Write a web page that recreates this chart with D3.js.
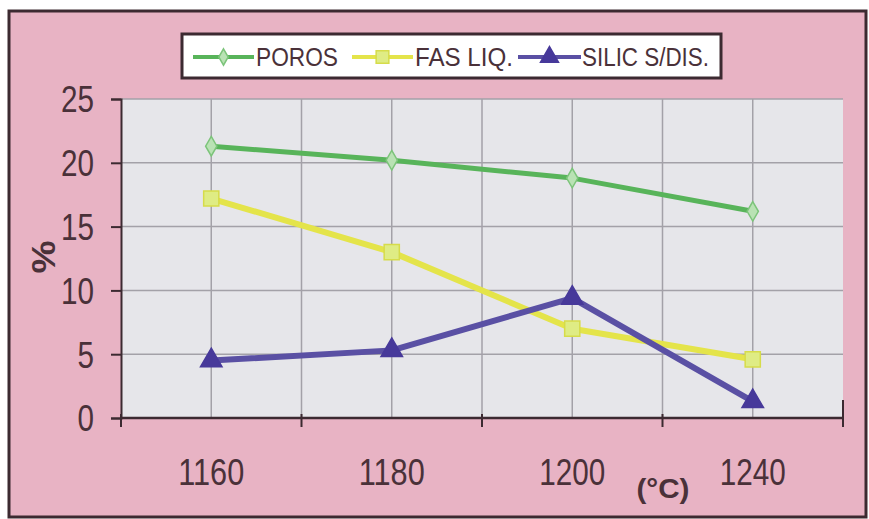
<!DOCTYPE html>
<html>
<head>
<meta charset="utf-8">
<script src="https://cdn.jsdelivr.net/npm/d3@7/dist/d3.min.js"></script>
<style>
  html, body { margin: 0; padding: 0; background: #ffffff; }
  svg { display: block; }
  text { font-family: "Liberation Sans", Arial, sans-serif; fill: #4a3139; }
</style>
</head>
<body>
<svg id="chart" width="869" height="519"></svg>
<script>
// Temperature categories (°C) and the three measured series (%)
const categories = ["1160", "1180", "1200", "1240"];
const poros  = [21.3, 20.2, 18.8, 16.2];
const fasLiq = [17.2, 13.0, 7.0, 4.6];
const silic  = [4.5, 5.3, 9.4, 1.3];
const yTicks = [0, 5, 10, 15, 20, 25];
const seriesNames = ["POROS", "FAS LIQ.", "SILIC S/DIS."];

const series = [
  { name: seriesNames[0], values: poros,  stroke: "#58b45a", width: 5, symbol: d3.symbolDiamond,  size: 110, fill: "#b9e2b4", mstroke: "#7cc47a" },
  { name: seriesNames[1], values: fasLiq, stroke: "#e4e44a", width: 6, symbol: d3.symbolSquare,   size: 230, fill: "#dfec84", mstroke: "#d6dc4a" },
  { name: seriesNames[2], values: silic,  stroke: "#5a50a4", width: 6, symbol: d3.symbolTriangle, size: 200, fill: "#47399a", mstroke: "#47399a" }
];

const svg = d3.select("#chart");
const plot = { left: 121, right: 843, top: 99, bottom: 418 };
const ink = "#3c2a31";

// Frame and pink panel
svg.append("rect").attr("x", 9).attr("y", 11).attr("width", 857).attr("height", 506)
  .attr("fill", "#e8b3c4").attr("stroke", ink).attr("stroke-width", 3);

const x = d3.scaleBand().domain(categories).range([plot.left, plot.right]).padding(0);
const y = d3.scaleLinear().domain([0, 25]).range([plot.bottom, plot.top]);
const xc = c => x(c) + x.bandwidth() / 2;

// Plot background
svg.append("rect").attr("x", plot.left).attr("y", plot.top)
  .attr("width", plot.right - plot.left).attr("height", plot.bottom - plot.top)
  .attr("fill", "#e6e6ea");

// Grid lines
const grid = svg.append("g").attr("stroke", "#a3a1a8").attr("stroke-width", 1.5);
grid.selectAll("line.h").data(yTicks.filter(v => v > 0)).join("line")
  .attr("x1", plot.left).attr("x2", plot.right)
  .attr("y1", d => y(d)).attr("y2", d => y(d));
const vLines = [];
categories.forEach((c, i) => {
  vLines.push(xc(c));
  if (i > 0) vLines.push(x(c));
});
grid.selectAll("line.v").data(vLines).join("line")
  .attr("x1", d => d).attr("x2", d => d)
  .attr("y1", plot.top).attr("y2", plot.bottom);

// Y axis
const yAxis = svg.append("g").attr("transform", `translate(${plot.left},0)`)
  .call(d3.axisLeft(y).tickValues(yTicks).tickSize(10).tickPadding(17).tickFormat(d3.format("d")));
yAxis.select(".domain").attr("stroke", ink).attr("stroke-width", 2);
yAxis.selectAll(".tick line").attr("stroke", ink).attr("stroke-width", 2);
yAxis.selectAll(".tick text")
  .attr("font-size", 36).attr("fill", "#4a3139")
  .attr("textLength", d => String(d).length * 16.5).attr("lengthAdjust", "spacingAndGlyphs")
  .attr("dy", "0.36em");

// X axis: line with tick marks at band edges
const xAxis = svg.append("g");
xAxis.append("line").attr("x1", plot.left).attr("x2", plot.right)
  .attr("y1", plot.bottom).attr("y2", plot.bottom).attr("stroke", ink).attr("stroke-width", 2.5);
const edges = categories.map(c => x(c)).concat([x(categories[categories.length - 1]) + x.bandwidth()]);
xAxis.selectAll("line.t").data(edges).join("line")
  .attr("x1", d => d).attr("x2", d => d)
  .attr("y1", (d, i) => i === edges.length - 1 ? plot.bottom - 18 : plot.bottom - 4)
  .attr("y2", plot.bottom + 9).attr("stroke", ink).attr("stroke-width", 2);
xAxis.selectAll("text").data(categories).join("text")
  .attr("x", d => xc(d)).attr("y", 485).attr("text-anchor", "middle")
  .attr("font-size", 36).attr("textLength", 66).attr("lengthAdjust", "spacingAndGlyphs")
  .text(d => d);

// Axis titles
svg.append("text").attr("transform", "translate(55,257) rotate(-90)")
  .attr("text-anchor", "middle").attr("font-size", 34).attr("font-weight", "bold")
  .attr("textLength", 33).attr("lengthAdjust", "spacingAndGlyphs").text("%");
svg.append("text").attr("x", 663).attr("y", 498).attr("text-anchor", "middle")
  .attr("font-size", 28).attr("font-weight", "bold")
  .attr("textLength", 53).attr("lengthAdjust", "spacingAndGlyphs").text("(°C)");

// Series lines and markers
const line = d3.line().x((d, i) => xc(categories[i])).y(d => y(d));
series.forEach(s => {
  svg.append("path").datum(s.values).attr("d", line)
    .attr("fill", "none").attr("stroke", s.stroke).attr("stroke-width", s.width)
    .attr("stroke-linejoin", "round");
});
series.forEach(s => {
  svg.append("g").selectAll("path").data(s.values).join("path")
    .attr("transform", (d, i) => `translate(${xc(categories[i])},${y(d)})`)
    .attr("d", d3.symbol().type(s.symbol).size(s.size))
    .attr("fill", s.fill).attr("stroke", s.mstroke).attr("stroke-width", 1.5);
});

// Legend
const legend = svg.append("g");
legend.append("rect").attr("x", 182).attr("y", 34).attr("width", 539).attr("height", 44)
  .attr("fill", "#ffffff").attr("stroke", ink).attr("stroke-width", 3);
const legendItems = [
  { x0: 193, x1: 254, tx: 256, tw: 82 },
  { x0: 352, x1: 413, tx: 415, tw: 98 },
  { x0: 518, x1: 581, tx: 582, tw: 127 }
];
series.forEach((s, i) => {
  const it = legendItems[i];
  const cy = 57;
  legend.append("line").attr("x1", it.x0).attr("x2", it.x1).attr("y1", cy).attr("y2", cy)
    .attr("stroke", s.stroke).attr("stroke-width", 4);
  legend.append("path").attr("transform", `translate(${(it.x0 + it.x1) / 2},${cy})`)
    .attr("d", d3.symbol().type(s.symbol).size(s.size * 0.7))
    .attr("fill", s.fill).attr("stroke", s.mstroke).attr("stroke-width", 1.5);
  legend.append("text").attr("x", it.tx).attr("y", 66).attr("font-size", 26)
    .attr("textLength", it.tw).attr("lengthAdjust", "spacingAndGlyphs").text(s.name);
});
</script>
</body>
</html>
